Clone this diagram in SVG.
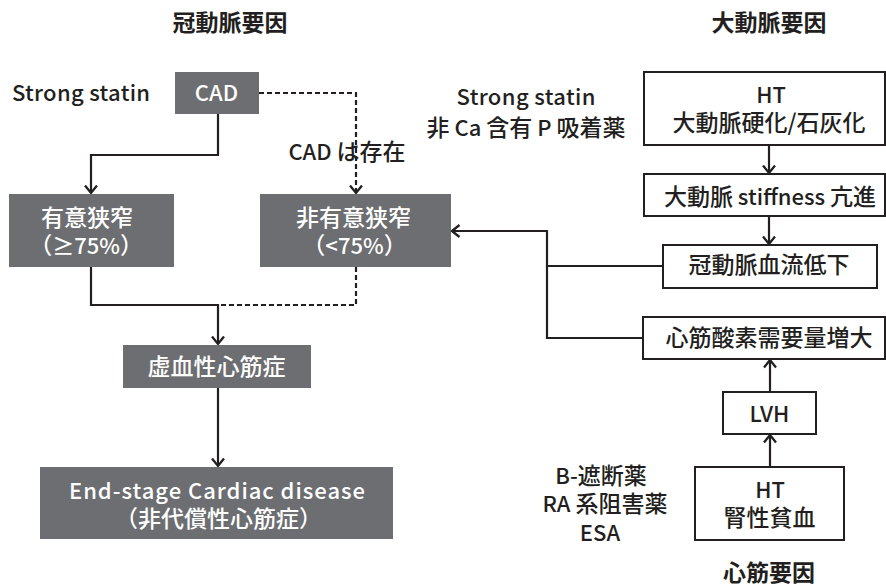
<svg xmlns="http://www.w3.org/2000/svg" width="886" height="587" viewBox="0 0 886 587">
<defs>
<marker id="arr" viewBox="0 0 10 14" markerWidth="10" markerHeight="14" refX="8.5" refY="7" orient="auto" markerUnits="userSpaceOnUse">
<path d="M1,1 L8.5,7 L1,13" fill="none" stroke="#231f20" stroke-width="2.3"/>
</marker>
</defs>
<style>
text{font-family:"Noto Sans CJK JP","Noto Sans",sans-serif;font-size:23px;text-anchor:middle;}
.l{font-size:22px;}
.dk{fill:#6d6e71;}
.wb{fill:#fff;stroke:#231f20;stroke-width:2;}
.wt{fill:#fff;font-weight:500;}
.bt{fill:#231f20;font-weight:500;}
.hd{fill:#231f20;font-weight:700;}
.ln{fill:none;stroke:#231f20;stroke-width:2.2;}
.ds{stroke-dasharray:5,3;}
</style>
<rect width="886" height="587" fill="#fff"/>
<g id="labels">
<text class="hd" x="230" y="31">冠動脈要因</text>
<text class="hd" x="769" y="31">大動脈要因</text>
<text class="hd" x="769" y="581">心筋要因</text>
<text class="bt l" x="81" y="101" textLength="138">Strong statin</text>
<text class="bt" x="347" y="160"><tspan class="l">CAD </tspan>は存在</text>
<text class="bt l" x="526" y="105" textLength="139">Strong statin</text>
<text class="bt" x="526" y="136">非<tspan class="l"> Ca </tspan>含有<tspan class="l"> P </tspan>吸着薬</text>
<text class="bt" x="601" y="484"><tspan class="l">B-</tspan>遮断薬</text>
<text class="bt" x="605" y="512"><tspan class="l">RA </tspan>系阻害薬</text>
<text class="bt l" x="600" y="541">ESA</text>
</g>
<g id="connectors">
<path class="ln" d="M218,114 V155 H91 V193" marker-end="url(#arr)"/>
<path class="ln ds" d="M259,93 H356 V193" marker-end="url(#arr)"/>
<path class="ln" d="M91,267 V305 H218"/>
<path class="ln ds" d="M356,267 V305 H218"/>
<path class="ln" d="M218,304 V344" marker-end="url(#arr)"/>
<path class="ln" d="M218,388 V466" marker-end="url(#arr)"/>
<path class="ln" d="M769,145 V173" marker-end="url(#arr)"/>
<path class="ln" d="M769,216 V244" marker-end="url(#arr)"/>
<path class="ln" d="M663,266 H547 V231 H452" marker-end="url(#arr)"/>
<path class="ln" d="M643,338 H547 V266"/>
<path class="ln" d="M770,392 V360" marker-end="url(#arr)"/>
<path class="ln" d="M770,467 V435" marker-end="url(#arr)"/>
</g>
<g id="cad">
<rect class="dk" x="175" y="72" width="84" height="42"/>
<text class="wt l" x="216.5" y="101">CAD</text>
</g>
<g id="significant">
<rect class="dk" x="9" y="194" width="165" height="73"/>
<text class="wt" x="87" y="226">有意狭窄</text>
<text class="wt" x="86" y="254">（<tspan class="l">≥75%</tspan>）</text>
</g>
<g id="nonsignificant">
<rect class="dk" x="260" y="194" width="191" height="73"/>
<text class="wt" x="353.5" y="226">非有意狭窄</text>
<text class="wt" x="354.5" y="254">（<tspan class="l">&lt;75%</tspan>）</text>
</g>
<g id="ischemic">
<rect class="dk" x="123" y="345" width="188" height="43"/>
<text class="wt" x="216.5" y="375">虚血性心筋症</text>
</g>
<g id="endstage">
<rect class="dk" x="40" y="467" width="353" height="72"/>
<text class="wt l" x="217" y="499" textLength="296">End-stage Cardiac disease</text>
<text class="wt" x="218.5" y="527">（非代償性心筋症）</text>
</g>
<g id="ht-aorta">
<rect class="wb" x="644" y="72" width="241" height="73"/>
<text class="bt l" x="771" y="103">HT</text>
<text class="bt" x="769" y="131">大動脈硬化/石灰化</text>
</g>
<g id="stiffness">
<rect class="wb" x="644" y="174" width="241" height="42"/>
<text class="bt" x="770" y="205">大動脈<tspan class="l"> stiffness </tspan>亢進</text>
</g>
<g id="coronary-flow">
<rect class="wb" x="663" y="245" width="214" height="43"/>
<text class="bt" x="769" y="273">冠動脈血流低下</text>
</g>
<g id="o2demand">
<rect class="wb" x="643" y="317" width="242" height="42"/>
<text class="bt" x="769" y="346">心筋酸素需要量増大</text>
</g>
<g id="lvh">
<rect class="wb" x="723" y="392" width="93" height="42"/>
<text class="bt l" x="769.5" y="422">LVH</text>
</g>
<g id="ht-anemia">
<rect class="wb" x="695" y="467" width="149" height="73"/>
<text class="bt l" x="770" y="498">HT</text>
<text class="bt" x="769.5" y="526">腎性貧血</text>
</g>
</svg>
